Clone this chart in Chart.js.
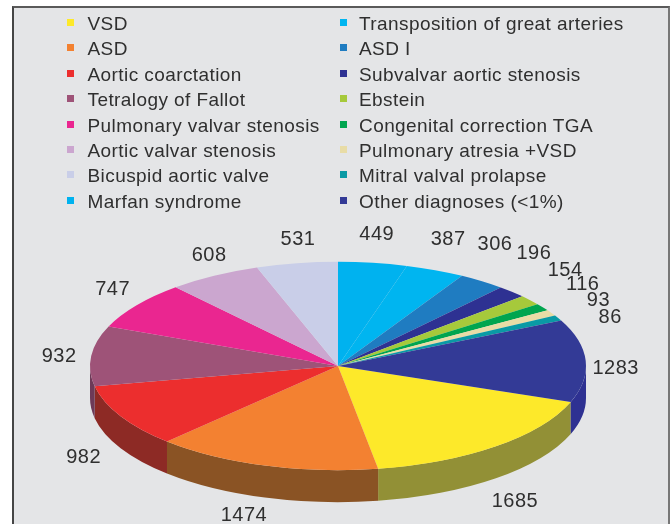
<!DOCTYPE html>
<html>
<head>
<meta charset="utf-8">
<script src="https://cdn.jsdelivr.net/npm/chart.js@4/dist/chart.umd.min.js"></script>
<style>
  html, body { margin: 0; padding: 0; background: #fff; overflow: hidden; }
  #wrap { position: relative; width: 672px; height: 524px; }
  #frame {
    position: absolute; left: 12px; top: 6px; width: 654px; height: 516px;
    background: #e4e5e7; border-left: 2px solid #454545; border-top: 2px solid #5a5a5a; border-right: 2px solid #777;
  }
  canvas { position: absolute; left: 0; top: 0; }
  .item {
    position: absolute; font: 19px "Liberation Sans", sans-serif; letter-spacing: 0.42px;
    color: #2f2f2f; white-space: nowrap; line-height: 20px;
  }
  .swatch { position: absolute; width: 7px; height: 7px; }
</style>
</head>
<body>
<div id="wrap">
  <div id="frame"></div>
  <canvas id="chart" width="672" height="524"></canvas>
  <div id="legend"></div>
</div>
<script>
const categories = [
  "VSD", "ASD", "Aortic coarctation", "Tetralogy of Fallot",
  "Pulmonary valvar stenosis", "Aortic valvar stenosis", "Bicuspid aortic valve", "Marfan syndrome",
  "Transposition of great arteries", "ASD I", "Subvalvar aortic stenosis", "Ebstein",
  "Congenital correction TGA", "Pulmonary atresia +VSD", "Mitral valval prolapse", "Other diagnoses (<1%)"
];
const patients = [1685, 1474, 982, 932, 747, 608, 531, 449, 387, 306, 196, 154, 116, 93, 86, 1283];

const topColors = [
  "#fde92a", "#f38131", "#ec2e2e", "#9e5378", "#ea2690", "#cba6cf", "#c9cee8", "#00b2ef",
  "#00b5f0", "#1f7cc1", "#2e3192", "#a6c93b", "#00a54f", "#e8dca6", "#0a9aa5", "#333a96"
];
const sideColors = [
  "#929036", "#8a5324", "#8d2a25", "#6d3a58", "#a01a62", "#8c7290", "#8a8ea0", "#007aa6",
  "#007aa6", "#155585", "#1f2266", "#728a28", "#007236", "#a09872", "#066a72", "#2e3192"
];

// where each number sits relative to the middle of its slice rim
const labelOffsets = [
  [19, 55], [-21, 50], [-37, 41], [-32, 1], [-24, -16], [-5, -20], [1, -24], [4, -28],
  [13, -31], [13, -37], [22, -38], [35, -30], [40, -23], [47, -12], [52, -1], [30, 8]
];

const startRotation = 110.2; // VSD starts just below the right edge
const tilt = 0.42;
const pieCenterY = 366;
const pieDepth = 32;

// squash the pie into an ellipse and draw the wall under it
const tiltPlugin = {
  id: "tilt",
  beforeDatasetsDraw(chart) {
    const ctx = chart.ctx;
    chart.getDatasetMeta(0).data.forEach((arc, i) => {
      const r = arc.outerRadius;
      for (let k = -1; k <= 1; k++) {
        const from = Math.max(arc.startAngle, k * 2 * Math.PI);
        const to = Math.min(arc.endAngle, k * 2 * Math.PI + Math.PI);
        if (to <= from) continue;
        ctx.beginPath();
        ctx.ellipse(arc.x, pieCenterY, r, r * tilt, 0, from, to);
        ctx.ellipse(arc.x, pieCenterY + pieDepth, r, r * tilt, 0, to, from, true);
        ctx.closePath();
        ctx.fillStyle = sideColors[i];
        ctx.fill();
      }
    });
    ctx.save();
    const cy = chart.getDatasetMeta(0).data[0].y;
    ctx.translate(0, pieCenterY);
    ctx.scale(1, tilt);
    ctx.translate(0, -cy);
  },
  afterDatasetsDraw(chart) {
    const ctx = chart.ctx;
    ctx.restore();
    ctx.save();
    ctx.font = '20px "Liberation Sans", sans-serif';
    ctx.letterSpacing = "0.5px";
    ctx.fillStyle = "#2f2f2f";
    ctx.textAlign = "center";
    ctx.textBaseline = "middle";
    chart.getDatasetMeta(0).data.forEach((arc, i) => {
      const mid = (arc.startAngle + arc.endAngle) / 2;
      const x = arc.x + arc.outerRadius * Math.cos(mid);
      const y = pieCenterY + arc.outerRadius * tilt * Math.sin(mid);
      ctx.fillText(String(patients[i]), x + labelOffsets[i][0], y + labelOffsets[i][1]);
    });
    ctx.restore();
  }
};

const chart = new Chart(document.getElementById("chart").getContext("2d"), {
  type: "pie",
  data: {
    labels: categories,
    datasets: [{
      data: patients,
      backgroundColor: topColors,
      borderWidth: 0,
      clip: false
    }]
  },
  options: {
    responsive: false,
    animation: false,
    events: [],
    rotation: startRotation,
    layout: { padding: { left: 90, right: 86, top: 14, bottom: 14 } },
    plugins: { legend: { display: false }, tooltip: { enabled: false } }
  },
  plugins: [tiltPlugin]
});

// legend in two columns, built from the chart's own legend items
const legendBox = document.getElementById("legend");
const items = chart.options.plugins.legend.labels.generateLabels(chart);
items.forEach((item, i) => {
  const col = i < 8 ? 0 : 1;
  const row = i % 8;
  const cy = 22.5 + row * 25.4;
  const swatch = document.createElement("div");
  swatch.className = "swatch";
  swatch.style.left = (col ? 340 : 67) + "px";
  swatch.style.top = (cy - 3.5) + "px";
  swatch.style.background = item.fillStyle;
  legendBox.appendChild(swatch);
  const text = document.createElement("div");
  text.className = "item";
  text.style.left = (col ? 359 : 87.5) + "px";
  text.style.top = (cy - 8.5) + "px";
  text.textContent = item.text;
  legendBox.appendChild(text);
});
</script>
</body>
</html>
